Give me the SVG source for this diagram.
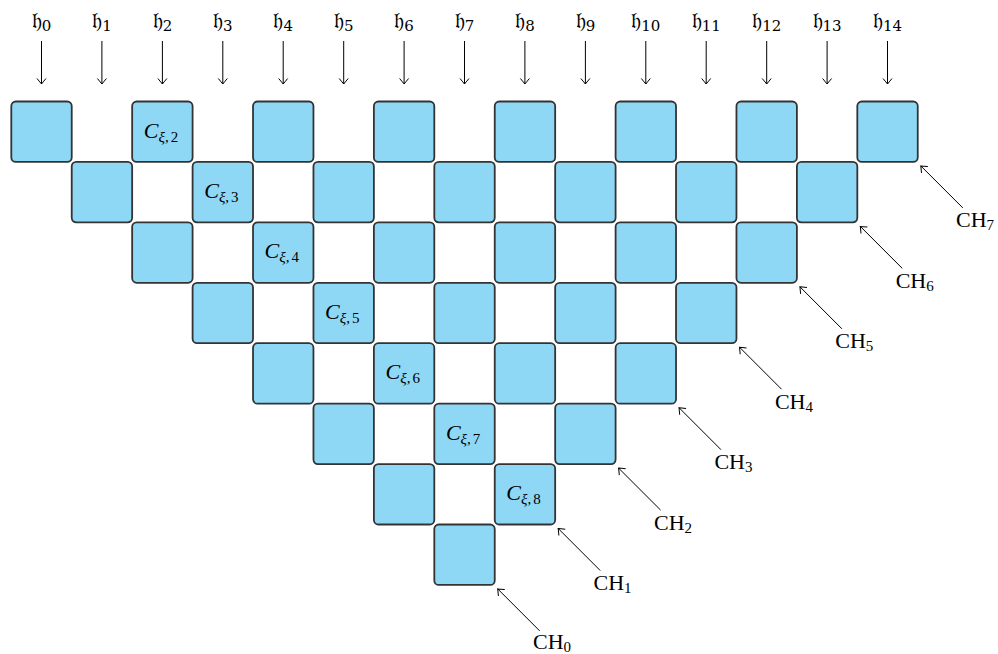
<svg xmlns="http://www.w3.org/2000/svg" width="998" height="654" viewBox="0 0 998 654">
<style>
.cell{fill:#8fd8f5;stroke:#333333;stroke-width:1.8}
.lbl{font-family:"Liberation Serif","DejaVu Serif",serif;font-size:22px;fill:#000}
.frak{font-family:"DejaVu Serif","DejaVu Sans","Noto Sans",serif;font-size:22px;fill:#000}
.sub{font-size:15px}
.conn line{stroke:#000;stroke-width:1;fill:none;marker-end:url(#arr)}
</style>
<defs>
<marker id="arr" markerUnits="userSpaceOnUse" orient="auto" markerWidth="12" markerHeight="12" refX="0" refY="0" viewBox="-7 -6 8 12" overflow="visible">
<path d="M-5.5,-4.5 Q-1.5,-1.2 0,0 Q-1.5,1.2 -5.5,4.5" fill="none" stroke="#000" stroke-width="1"/>
</marker>
<rect id="box" class="cell" width="60.43" height="60.43" rx="4.5"/>
</defs>
<rect width="998" height="654" fill="#fff"/>
<g id="top-labels">
<text class="frak" x="41.5" y="28" text-anchor="middle">𝔥<tspan class="sub" dy="3">0</tspan></text>
<text class="frak" x="101.9" y="28" text-anchor="middle">𝔥<tspan class="sub" dy="3">1</tspan></text>
<text class="frak" x="162.4" y="28" text-anchor="middle">𝔥<tspan class="sub" dy="3">2</tspan></text>
<text class="frak" x="222.8" y="28" text-anchor="middle">𝔥<tspan class="sub" dy="3">3</tspan></text>
<text class="frak" x="283.2" y="28" text-anchor="middle">𝔥<tspan class="sub" dy="3">4</tspan></text>
<text class="frak" x="343.7" y="28" text-anchor="middle">𝔥<tspan class="sub" dy="3">5</tspan></text>
<text class="frak" x="404.1" y="28" text-anchor="middle">𝔥<tspan class="sub" dy="3">6</tspan></text>
<text class="frak" x="464.5" y="28" text-anchor="middle">𝔥<tspan class="sub" dy="3">7</tspan></text>
<text class="frak" x="524.9" y="28" text-anchor="middle">𝔥<tspan class="sub" dy="3">8</tspan></text>
<text class="frak" x="585.4" y="28" text-anchor="middle">𝔥<tspan class="sub" dy="3">9</tspan></text>
<text class="frak" x="645.8" y="28" text-anchor="middle">𝔥<tspan class="sub" dy="3">10</tspan></text>
<text class="frak" x="706.2" y="28" text-anchor="middle">𝔥<tspan class="sub" dy="3">11</tspan></text>
<text class="frak" x="766.7" y="28" text-anchor="middle">𝔥<tspan class="sub" dy="3">12</tspan></text>
<text class="frak" x="827.1" y="28" text-anchor="middle">𝔥<tspan class="sub" dy="3">13</tspan></text>
<text class="frak" x="887.5" y="28" text-anchor="middle">𝔥<tspan class="sub" dy="3">14</tspan></text>
</g>
<g id="row0">
<g id="n0_0"><use href="#box" x="11.3" y="101.5"/></g>
<g id="n0_2"><use href="#box" x="132.16" y="101.5"/><text class="lbl" x="161" y="137.5" text-anchor="middle"><tspan font-style="italic">C</tspan><tspan class="sub" dy="4"><tspan font-style="italic">ξ</tspan>,<tspan dx="2">2</tspan></tspan></text></g>
<g id="n0_4"><use href="#box" x="253.02" y="101.5"/></g>
<g id="n0_6"><use href="#box" x="373.88" y="101.5"/></g>
<g id="n0_8"><use href="#box" x="494.74" y="101.5"/></g>
<g id="n0_10"><use href="#box" x="615.6" y="101.5"/></g>
<g id="n0_12"><use href="#box" x="736.46" y="101.5"/></g>
<g id="n0_14"><use href="#box" x="857.32" y="101.5"/></g>
</g>
<g id="row1">
<g id="n1_1"><use href="#box" x="71.73" y="161.93"/></g>
<g id="n1_3"><use href="#box" x="192.59" y="161.93"/><text class="lbl" x="221.4" y="197.9" text-anchor="middle"><tspan font-style="italic">C</tspan><tspan class="sub" dy="4"><tspan font-style="italic">ξ</tspan>,<tspan dx="2">3</tspan></tspan></text></g>
<g id="n1_5"><use href="#box" x="313.45" y="161.93"/></g>
<g id="n1_7"><use href="#box" x="434.31" y="161.93"/></g>
<g id="n1_9"><use href="#box" x="555.17" y="161.93"/></g>
<g id="n1_11"><use href="#box" x="676.03" y="161.93"/></g>
<g id="n1_13"><use href="#box" x="796.89" y="161.93"/></g>
</g>
<g id="row2">
<g id="n2_2"><use href="#box" x="132.16" y="222.36"/></g>
<g id="n2_4"><use href="#box" x="253.02" y="222.36"/><text class="lbl" x="281.8" y="258.3" text-anchor="middle"><tspan font-style="italic">C</tspan><tspan class="sub" dy="4"><tspan font-style="italic">ξ</tspan>,<tspan dx="2">4</tspan></tspan></text></g>
<g id="n2_6"><use href="#box" x="373.88" y="222.36"/></g>
<g id="n2_8"><use href="#box" x="494.74" y="222.36"/></g>
<g id="n2_10"><use href="#box" x="615.6" y="222.36"/></g>
<g id="n2_12"><use href="#box" x="736.46" y="222.36"/></g>
</g>
<g id="row3">
<g id="n3_3"><use href="#box" x="192.59" y="282.79"/></g>
<g id="n3_5"><use href="#box" x="313.45" y="282.79"/><text class="lbl" x="342.3" y="318.7" text-anchor="middle"><tspan font-style="italic">C</tspan><tspan class="sub" dy="4"><tspan font-style="italic">ξ</tspan>,<tspan dx="2">5</tspan></tspan></text></g>
<g id="n3_7"><use href="#box" x="434.31" y="282.79"/></g>
<g id="n3_9"><use href="#box" x="555.17" y="282.79"/></g>
<g id="n3_11"><use href="#box" x="676.03" y="282.79"/></g>
</g>
<g id="row4">
<g id="n4_4"><use href="#box" x="253.02" y="343.22"/></g>
<g id="n4_6"><use href="#box" x="373.88" y="343.22"/><text class="lbl" x="402.7" y="379.1" text-anchor="middle"><tspan font-style="italic">C</tspan><tspan class="sub" dy="4"><tspan font-style="italic">ξ</tspan>,<tspan dx="2">6</tspan></tspan></text></g>
<g id="n4_8"><use href="#box" x="494.74" y="343.22"/></g>
<g id="n4_10"><use href="#box" x="615.6" y="343.22"/></g>
</g>
<g id="row5">
<g id="n5_5"><use href="#box" x="313.45" y="403.65"/></g>
<g id="n5_7"><use href="#box" x="434.31" y="403.65"/><text class="lbl" x="463.1" y="439.5" text-anchor="middle"><tspan font-style="italic">C</tspan><tspan class="sub" dy="4"><tspan font-style="italic">ξ</tspan>,<tspan dx="2">7</tspan></tspan></text></g>
<g id="n5_9"><use href="#box" x="555.17" y="403.65"/></g>
</g>
<g id="row6">
<g id="n6_6"><use href="#box" x="373.88" y="464.08"/></g>
<g id="n6_8"><use href="#box" x="494.74" y="464.08"/><text class="lbl" x="523.5" y="500" text-anchor="middle"><tspan font-style="italic">C</tspan><tspan class="sub" dy="4"><tspan font-style="italic">ξ</tspan>,<tspan dx="2">8</tspan></tspan></text></g>
</g>
<g id="row7">
<g id="n7_7"><use href="#box" x="434.31" y="524.51"/></g>
</g>
<g id="connectors" class="conn">
<line x1="41.5" y1="41" x2="41.5" y2="84"/>
<line x1="101.9" y1="41" x2="101.9" y2="84"/>
<line x1="162.4" y1="41" x2="162.4" y2="84"/>
<line x1="222.8" y1="41" x2="222.8" y2="84"/>
<line x1="283.2" y1="41" x2="283.2" y2="84"/>
<line x1="343.7" y1="41" x2="343.7" y2="84"/>
<line x1="404.1" y1="41" x2="404.1" y2="84"/>
<line x1="464.5" y1="41" x2="464.5" y2="84"/>
<line x1="524.9" y1="41" x2="524.9" y2="84"/>
<line x1="585.4" y1="41" x2="585.4" y2="84"/>
<line x1="645.8" y1="41" x2="645.8" y2="84"/>
<line x1="706.2" y1="41" x2="706.2" y2="84"/>
<line x1="766.7" y1="41" x2="766.7" y2="84"/>
<line x1="827.1" y1="41" x2="827.1" y2="84"/>
<line x1="887.5" y1="41" x2="887.5" y2="84"/>
<line x1="539.7" y1="630.9" x2="497.7" y2="588.9"/>
<line x1="600.2" y1="570.5" x2="558.2" y2="528.5"/>
<line x1="660.6" y1="510.1" x2="618.6" y2="468.1"/>
<line x1="721" y1="449.7" x2="679" y2="407.7"/>
<line x1="781.5" y1="389.2" x2="739.5" y2="347.2"/>
<line x1="841.9" y1="328.8" x2="799.9" y2="286.8"/>
<line x1="902.3" y1="268.4" x2="860.3" y2="226.4"/>
<line x1="962.8" y1="207.9" x2="920.8" y2="165.9"/>
</g>
<g id="ch-labels">
<text class="lbl" x="533" y="648.5">CH<tspan class="sub" dy="3">0</tspan></text>
<text class="lbl" x="593.5" y="590">CH<tspan class="sub" dy="3">1</tspan></text>
<text class="lbl" x="654" y="529.6">CH<tspan class="sub" dy="3">2</tspan></text>
<text class="lbl" x="714.4" y="469.2">CH<tspan class="sub" dy="3">3</tspan></text>
<text class="lbl" x="774.9" y="408.7">CH<tspan class="sub" dy="3">4</tspan></text>
<text class="lbl" x="835.3" y="348.3">CH<tspan class="sub" dy="3">5</tspan></text>
<text class="lbl" x="895.7" y="287.9">CH<tspan class="sub" dy="3">6</tspan></text>
<text class="lbl" x="956" y="227.4">CH<tspan class="sub" dy="3">7</tspan></text>
</g>
</svg>
